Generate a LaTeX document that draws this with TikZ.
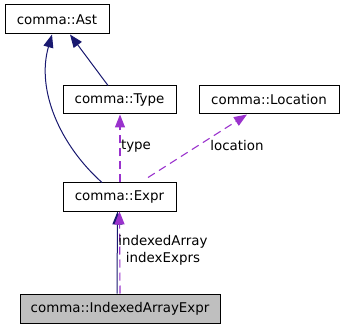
\documentclass[tikz,border=0pt]{standalone}
\usepackage{fontspec}
\setmainfont{DejaVu Sans}
\usetikzlibrary{arrows.meta,calc}
\definecolor{inh}{HTML}{191970}
\definecolor{use}{HTML}{9A32CD}
\begin{document}
\begin{tikzpicture}[x=1pt,y=-1pt,
  cls/.style={draw=black,line width=1pt,fill=white,inner sep=0pt,minimum height=28pt,font=\fontsize{13.4}{15}\selectfont},
  inhedge/.style={draw=inh,line width=1pt,-{Triangle[length=13pt,width=10pt]}},
  useedge/.style={draw=use,line width=1.1pt,dash pattern=on 8pt off 5pt,-{Triangle[length=13pt,width=10pt]}},
  lbl/.style={font=\fontsize{13.4}{15}\selectfont,inner sep=0pt}]
\useasboundingbox (0,0) rectangle (344,328);
\node[cls,minimum width=104pt,minimum height=29pt] (ast) at (57,19.5) {comma::Ast};
\node[cls,minimum width=113pt] (type) at (119.5,100) {comma::Type};
\node[cls,minimum width=140pt] (loc) at (269,100) {comma::Location};
\node[cls,minimum width=113pt] (expr) at (119.5,197) {comma::Expr};
\node[cls,fill=black!25,minimum width=200pt,minimum height=29pt] (iae) at (120,308.5) {comma::IndexedArrayExpr};
\draw[inhedge] ($(type.north)+(-11.5,0)$) -- ($(ast.south)+(13,0)$);
\draw[inhedge] ($(expr.north)+(-17.5,0)$) .. controls (60,145) and (36,90) .. ($(ast.south)+(-5,0)$);
\draw[useedge] ($(expr.north)+(0.5,0)$) -- ($(type.south)+(0.5,0)$);
\draw[useedge] ($(expr.north)+(28.5,-5)$) -- ($(loc.south)+(-22,0)$);
\draw[inhedge] ($(iae.north)+(-3,0)$) -- ($(expr.south)+(-2,0)$);
\draw[useedge] ($(iae.north)+(0,0)$) -- ($(expr.south)+(0,0)$);
\node[lbl] (ltype) at (136,146) {type};
\node[lbl] (lloc) at (237,146) {location};
\node[lbl] (lia) at (163,242) {indexedArray};
\node[lbl] (lie) at (163,259) {indexExprs};
\end{tikzpicture}
\end{document}
